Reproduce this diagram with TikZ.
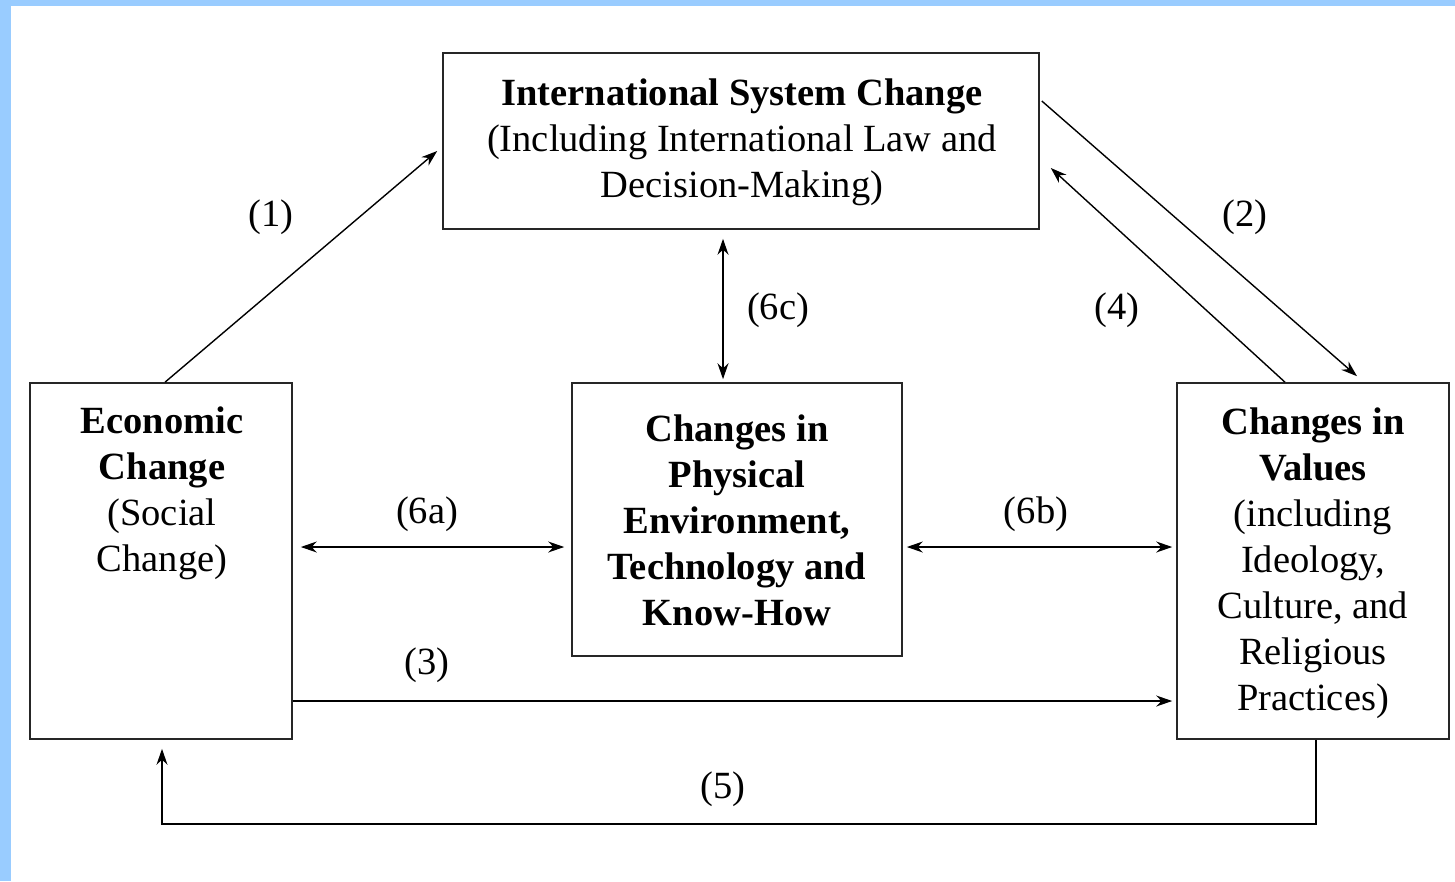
\documentclass[tikz,border=0pt]{standalone}
\usepackage{fontspec}
\setmainfont{Liberation Serif}
\usetikzlibrary{arrows.meta,calc}
\definecolor{frameblue}{HTML}{99CCFF}
\begin{document}
\begin{tikzpicture}[x=1pt,y=-1pt,
  box/.style={draw=black!85,line width=1.6pt,inner sep=0pt},
  txt/.style={align=center,font=\fontsize{38.5}{46}\selectfont,inner sep=0pt},
  lbl/.style={font=\fontsize{38.5}{46}\selectfont,inner sep=0pt},
  conn/.style={line width=1.4pt,-{Stealth[length=16pt,width=11pt]}},
  dconn/.style={line width=1.4pt,{Stealth[length=16pt,width=11pt]}-{Stealth[length=16pt,width=11pt]}}]
\useasboundingbox (0,0) rectangle (1455,881);
\fill[frameblue] (0,0) rectangle (1455,881);
\fill[white] (11,6) rectangle (1455,881);
% boxes
\node[box,minimum width=596pt,minimum height=176pt] (intl) at (741,141) {};
\node[box,minimum width=262pt,minimum height=356pt] (econ) at (161,561) {};
\node[box,minimum width=330pt,minimum height=273pt] (phys) at (737,519.5) {};
\node[box,minimum width=272pt,minimum height=356pt] (vals) at (1313,561) {};
% texts
\node[txt] (intlt) at (742,142) {\textbf{International System Change}\\(Including International Law and\\Decision-Making)};
\node[txt] (econt) at (162,493) {\textbf{Economic}\\\textbf{Change}\\(Social\\Change)};
\node[txt] (physt) at (737,520) {\textbf{Changes in}\\\textbf{Physical}\\\textbf{Environment,}\\\textbf{Technology and}\\\textbf{Know-How}};
\node[txt] (valst) at (1313,563) {\textbf{Changes in}\\\textbf{Values}\\(including\\Ideology,\\Culture, and\\Religious\\Practices)};
% connectors
\draw[conn] ($(econ.north)+(4,0)$) -- ($(intl.west)+(-5,10)$);
\draw[conn] ($(intl.east)+(2,-40)$) -- ($(vals.north)+(44,-6)$);
\draw[conn] ($(vals.north)+(-28,0)$) -- ($(intl.east)+(11,27)$);
\draw[dconn] ($(intl.south)+(-18,9)$) -- ($(phys.north)+(-14,-3)$);
\draw[dconn] ($(econ.east)+(8,-14)$) -- ($(phys.west)+(-7,27.5)$);
\draw[dconn] ($(phys.east)+(4,27.5)$) -- ($(vals.west)+(-4,-14)$);
\draw[conn] ($(econ.east)+(0,140)$) -- ($(vals.west)+(-4,140)$);
\draw[conn] ($(vals.south)+(3,0)$) -- ++(0,84) -| ($(econ.south)+(1,9)$);
% labels
\node[lbl] (l1) at (271,217) {(1)};
\node[lbl] (l2) at (1245,217) {(2)};
\node[lbl] (l4) at (1117,310) {(4)};
\node[lbl] (l6c) at (778,310) {(6c)};
\node[lbl] (l6a) at (427,514) {(6a)};
\node[lbl] (l6b) at (1036,514) {(6b)};
\node[lbl] (l3) at (427,665) {(3)};
\node[lbl] (l5) at (723,789) {(5)};
\end{tikzpicture}
\end{document}
